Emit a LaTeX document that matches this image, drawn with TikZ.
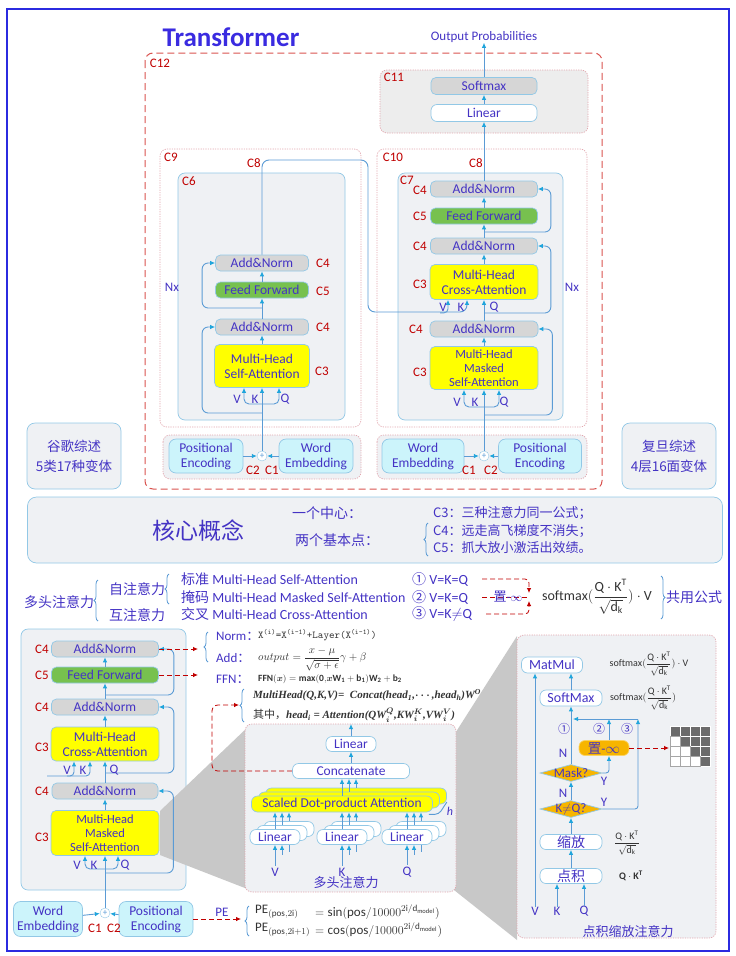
\documentclass[tikz,border=0pt]{standalone}
\usepackage{amsmath}
\usepackage{fontspec}
\setmainfont{Carlito}
\newfontfamily\cjk{Noto Sans CJK SC}
\newfontfamily\tnr{Liberation Serif}
\usetikzlibrary{arrows.meta, positioning, calc, shapes.geometric, decorations.pathreplacing}
\definecolor{tfink}{HTML}{4433C4}
\definecolor{tftitle}{HTML}{3A2BE0}
\definecolor{tfred}{HTML}{C00000}
\definecolor{tfline}{HTML}{5B9BD5}
\definecolor{tfarrow}{HTML}{1FA5DC}
\definecolor{tfbd}{HTML}{92C8E6}
\definecolor{tfpane}{HTML}{EFF1F4}
\definecolor{tfdash}{HTML}{D9534F}
\definecolor{tfdot}{HTML}{E2A6AE}
\definecolor{tfcyan}{HTML}{CCF4FB}
\definecolor{tfgray}{HTML}{D6D6D6}
\definecolor{tfgreen}{HTML}{77C14F}
\definecolor{tfyellow}{HTML}{FFFF00}
\definecolor{tfgold}{HTML}{F7B500}
\definecolor{tfframe}{HTML}{2B2BE0}
\definecolor{tfwedge}{HTML}{C8C8C8}
\definecolor{tfmask}{HTML}{6B6B6B}
\definecolor{tfformula}{HTML}{333333}
\tikzset{
  lyr/.style={draw=tfbd, rounded corners=5pt, align=center, inner sep=0pt, text=tfink,
    font=\fontsize{13.5}{15}\selectfont, line width=0.7pt},
  anbox/.style={lyr, fill=tfgray, minimum width=93pt, minimum height=16pt},
  ffbox/.style={lyr, fill=tfgreen, minimum width=93pt, minimum height=16pt},
  attbox/.style={lyr, fill=tfyellow, minimum width=95pt, minimum height=43pt},
  embbox/.style={lyr, fill=tfcyan, minimum width=74pt, minimum height=34pt, rounded corners=7pt},
  wbox/.style={lyr, fill=white, minimum height=15pt, rounded corners=6pt},
  sdbox/.style={lyr, fill=tfyellow, minimum width=181pt, minimum height=16pt, rounded corners=6pt},
  negbox/.style={lyr, fill=tfgold, draw=tfgold!60!white, minimum width=50pt, minimum height=15pt, rounded corners=6pt},
  decbox/.style={diamond, fill=tfgold, draw=tfbd, line width=0.7pt, inner sep=0pt,
    minimum width=62pt, minimum height=17pt},
  declbl/.style={text=tfink, font=\fontsize{13}{14}\selectfont, inner sep=0pt},
  sidebox/.style={lyr, fill=tfpane, minimum width=94pt, minimum height=66pt, rounded corners=8pt,
    font=\cjk\fontsize{13.5}{20}\selectfont},
  addop/.style={circle, draw=tfbd, fill=white, inner sep=0pt, minimum size=10pt, text=tfline,
    font=\fontsize{9}{9}\selectfont},
  clbl/.style={text=tfred, font=\fontsize{13}{14}\selectfont, inner sep=0pt},
  tlbl/.style={text=tfink, font=\fontsize{13}{14}\selectfont, inner sep=0pt},
  cjkt/.style={text=tfink, font=\cjk\fontsize{14}{16}\selectfont, inner sep=0pt},
  fml/.style={text=tfformula, inner sep=0pt},
  pane/.style={draw=tfbd, fill=tfpane, rounded corners=7pt, line width=0.7pt},
  dotpane/.style={draw=tfdot, dash pattern=on 1.2pt off 1.2pt, rounded corners=7pt, line width=0.7pt},
  redbox/.style={draw=tfdash, dash pattern=on 7pt off 4pt, rounded corners=8pt, line width=1pt},
  flow/.style={-{Latex[length=5pt, width=4.5pt, color=tfarrow]}, draw=tfline, line width=0.9pt},
  link/.style={draw=tfline, line width=0.9pt},
  redflow/.style={-{Latex[length=5pt, width=4.5pt]}, draw=tfred, dash pattern=on 5pt off 3pt, line width=0.8pt},
  reddash/.style={draw=tfred, dash pattern=on 5pt off 3pt, line width=0.8pt},
  brc/.style={decorate, decoration={brace, amplitude=4pt}, draw=tfline, line width=0.8pt}
}

\begin{document}
\begin{tikzpicture}[x=1pt, y=-1pt]
\useasboundingbox (0,0) rectangle (736,956);
\draw[tfframe, line width=1.4pt] (7,9) rectangle (729,951);

% overview frames
\node[text=tftitle, font=\fontsize{27}{30}\selectfont\bfseries] (title) at (231,37) {Transformer};
\node[tlbl] (outprob) at (484,37) {Output Probabilities};
\draw[redbox] (145,53) rectangle (602,489);
\draw[dotpane, fill=tfgray!45] (380,70) rectangle (588,133);
\draw[dotpane, fill=white] (160,149) rectangle (361,427);
\draw[dotpane, fill=white] (377,149) rectangle (587,427);
\draw[pane] (178,173) rectangle (345,420);
\draw[pane] (398,173) rectangle (563,420);
\draw[dotpane, fill=tfpane] (163,435) rectangle (361,479);
\draw[dotpane, fill=tfpane] (377,435) rectangle (587,479);
\node[clbl] (c12) at (160,63) {C12};
\node[clbl] (c11) at (394,77) {C11};
\node[clbl] (c9) at (171,157) {C9};
\node[clbl] (c10) at (393,157) {C10};
\node[clbl] (c6) at (189,181) {C6};
\node[clbl] (c7) at (407,180) {C7};
\node[clbl] (c8e) at (254,163) {C8};
\node[clbl] (c8d) at (476,163) {C8};

% encoder
\node[anbox] (eAN2) at (262,263) {Add\&Norm};
\node[ffbox] (eFF) at (262,290) {Feed Forward};
\node[anbox] (eAN1) at (262,327) {Add\&Norm};
\node[attbox] (eMHA) at (262,366) {Multi-Head\\Self-Attention};
\node[embbox] (ePE) at (206,456) {Positional\\Encoding};
\node[embbox] (eWE) at (316,456) {Word\\Embedding};
\node[addop] (eAdd) at (262,456) {+};
\coordinate (eBr) at (262,404);
\coordinate (eRs1) at (262,413);
\coordinate (eRs2) at (262,308);
\coordinate (c8up) at (368,160);
\coordinate (c8dn) at (368,312);
\draw[flow] (ePE) -- (eAdd);
\draw[flow] (eWE) -- (eAdd);
\draw[flow] (eAdd) -- (eMHA);
\draw[flow, rounded corners=5pt] (eBr) -| ($(eMHA.south)+(-18,0)$);
\draw[flow, rounded corners=5pt] (eBr) -| ($(eMHA.south)+(17,0)$);
\draw[flow, rounded corners=6pt] (eRs1) -| ($(eAN1.west)+(-13,0)$) -- (eAN1.west);
\draw[flow] (eMHA) -- (eAN1);
\draw[flow] (eAN1) -- (eFF);
\draw[flow, rounded corners=6pt] (eRs2) -| ($(eAN2.west)+(-13,0)$) -- (eAN2.west);
\draw[flow] (eFF) -- (eAN2);
\node[tlbl] (eV) at (237,399) {V};
\node[tlbl] (eK) at (255,399) {K};
\node[tlbl] (eQ) at (285,399) {Q};
\node[tlbl] (eNx) at (172,287) {Nx};
\node[clbl] (e4a) at (323,263) {C4};
\node[clbl] (e5) at (323,291) {C5};
\node[clbl] (e4b) at (323,327) {C4};
\node[clbl] (e3) at (322,371) {C3};
\node[clbl] (e2) at (253,470) {C2};
\node[clbl] (e1) at (272,470) {C1};

% decoder
\node[anbox, minimum width=107pt] (dAN3) at (484,189) {Add\&Norm};
\node[ffbox, minimum width=107pt] (dFF) at (484,216) {Feed Forward};
\node[anbox, minimum width=107pt] (dAN2) at (484,246) {Add\&Norm};
\node[attbox, minimum width=108pt, minimum height=35pt] (dCA) at (484,282) {Multi-Head\\Cross-Attention};
\node[anbox, minimum width=108pt] (dAN1) at (484,329) {Add\&Norm};
\node[attbox, minimum width=108pt, font=\fontsize{12.5}{14}\selectfont] (dMA) at (484,368) {Multi-Head\\Masked\\Self-Attention};
\node[embbox, minimum width=82pt] (dWE) at (423,456) {Word\\Embedding};
\node[embbox, minimum width=83pt] (dPE) at (540,456) {Positional\\Encoding};
\node[addop] (dAdd) at (484,456) {+};
\node[wbox, minimum width=106pt, minimum height=17pt] (dLin) at (484,113) {Linear};
\node[anbox, minimum width=106pt, minimum height=17pt] (dSm) at (484,86) {Softmax};
\coordinate (dBr) at (484,407);
\coordinate (dRs1) at (484,415);
\coordinate (dRs2) at (484,313);
\coordinate (dRs3) at (484,232);
\draw[flow] (dWE) -- (dAdd);
\draw[flow] (dPE) -- (dAdd);
\draw[flow] (dAdd) -- (dMA);
\draw[flow, rounded corners=5pt] (dBr) -| ($(dMA.south)+(-20,0)$);
\draw[flow, rounded corners=5pt] (dBr) -| ($(dMA.south)+(15,0)$);
\draw[flow, rounded corners=6pt] (dRs1) -| ($(dAN1.east)+(14,0)$) -- (dAN1.east);
\draw[flow] (dMA) -- (dAN1);
\draw[flow] (dAN1) -- (dCA);
\draw[flow, rounded corners=6pt] (dRs2) -| ($(dAN2.east)+(13,0)$) -- (dAN2.east);
\draw[flow] (dCA) -- (dAN2);
\draw[flow] (dAN2) -- (dFF);
\draw[flow, rounded corners=6pt] (dRs3) -| ($(dAN3.east)+(13,0)$) -- (dAN3.east);
\draw[flow] (dFF) -- (dAN3);
\draw[flow] (dAN3) -- (dLin);
\draw[flow] (dLin) -- (dSm);
\draw[flow] (dSm) -- (outprob);
\draw[flow, rounded corners=7pt] (eAN2.north) |- (c8up) -- (c8dn) -| ($(dCA.south)+(-17,0)$);
\draw[flow, rounded corners=4pt] ($(dCA.south)+(-44,13)$) -| ($(dCA.south)+(-36,0)$);
\node[tlbl] (dV1) at (443,307) {V};
\node[tlbl] (dK1) at (461,307) {K};
\node[tlbl] (dQ1) at (494,307) {Q};
\node[tlbl] (dV2) at (457,402) {V};
\node[tlbl] (dK2) at (475,402) {K};
\node[tlbl] (dQ2) at (504,402) {Q};
\node[tlbl] (dNx) at (572,287) {Nx};
\node[clbl] (d4a) at (420,190) {C4};
\node[clbl] (d5) at (420,216) {C5};
\node[clbl] (d4b) at (420,246) {C4};
\node[clbl] (d3a) at (420,284) {C3};
\node[clbl] (d4c) at (416,329) {C4};
\node[clbl] (d3b) at (420,372) {C3};
\node[clbl] (d1) at (469,470) {C1};
\node[clbl] (d2) at (491,470) {C2};

% survey boxes
\node[sidebox] (gsv) at (74,456) {谷歌综述\\5类17种变体};
\node[sidebox] (fsv) at (669,456) {复旦综述\\4层16面变体};

% core concept band
\node[lyr, fill=tfpane, minimum width=695pt, minimum height=66pt, rounded corners=9pt] (core) at (375,530) {};
\node[cjkt, font=\cjk\fontsize{23}{26}\selectfont] (coreT) at (198,531) {核心概念};
\node[cjkt] (oneC) at (327,513) {一个中心：};
\node[cjkt] (twoB) at (337,540) {两个基本点：};
\node[cjkt, anchor=west, font=\cjk\fontsize{13}{15}\selectfont] (p3) at (433,513) {C3：三种注意力同一公式；};
\node[cjkt, anchor=west, font=\cjk\fontsize{13}{15}\selectfont] (p4) at (433,531) {C4：远走高飞梯度不消失；};
\node[cjkt, anchor=west, font=\cjk\fontsize{13}{15}\selectfont] (p5) at (433,548) {C5：抓大放小激活出效绩。};
\draw[brc] (428,556) -- (428,523);

% attention kinds
\node[cjkt] (mhA) at (59,602) {多头注意力};
\node[cjkt] (selfA) at (137,589) {自注意力};
\node[cjkt] (crossA) at (137,615) {互注意力};
\draw[brc] (98,621) -- (98,580);
\draw[brc] (169,604) -- (169,574);
\node[tlbl, anchor=west, font=\fontsize{14}{16}\selectfont] (t1) at (181,579) {{\cjk 标准} Multi-Head Self-Attention};
\node[tlbl, anchor=west, font=\fontsize{14}{16}\selectfont] (t2) at (181,597) {{\cjk 掩码} Multi-Head Masked Self-Attention};
\node[tlbl, anchor=west, font=\fontsize{14}{16}\selectfont] (t3) at (181,614) {{\cjk 交叉} Multi-Head Cross-Attention};
\node[tlbl, anchor=west, font=\fontsize{14}{16}\selectfont] (r1) at (412,579) {{\cjk ①} V=K=Q};
\node[tlbl, anchor=west, font=\fontsize{14}{16}\selectfont] (r2) at (412,597) {{\cjk ②} V=K=Q};
\node[tlbl, anchor=west, font=\fontsize{14}{16}\selectfont] (r3) at (412,614) {{\cjk ③} V=K$\neq$Q};
\coordinate (mgTop) at (529,593);
\coordinate (mgMid) at (527,597);
\coordinate (mgBot) at (529,601);
\draw[redflow, rounded corners=4pt] ($(r1.east)+(14,0)$) -| (mgTop);
\draw[redflow, rounded corners=4pt] ($(r3.east)+(14,0)$) -| (mgBot);
\draw[reddash] ($(r2.east)+(14,0)$) -- (mgMid);
\node[tlbl, font=\fontsize{13}{14}\selectfont] (negB) at (508,597) {{\cjk 置}-$\infty$};
\node[fml, font=\fontsize{14}{16}\selectfont] (smxF) at (597,597) {$\mathrm{softmax}(\dfrac{\mathrm{Q\cdot K^T}}{\sqrt{\mathrm{d_k}}})\cdot\mathrm{V}$};
\draw[brc] (661,576) -- (661,619);
\node[cjkt] (share) at (694,597) {共用公式};

% decoder in detail
\draw[pane] (21,629) rectangle (186,890);
\fill[tfwedge] (160,811) -- (250,725) -- (250,890) -- (160,855) -- cycle;
\fill[tfwedge] (454,735) -- (517,636) -- (517,940) -- (454,890) -- cycle;
\node[anbox, minimum width=107pt] (bAN3) at (105,649) {Add\&Norm};
\node[ffbox, minimum width=107pt] (bFF) at (105,675) {Feed Forward};
\node[anbox, minimum width=107pt] (bAN2) at (105,707) {Add\&Norm};
\node[attbox, minimum width=108pt, minimum height=34pt] (bCA) at (105,744) {Multi-Head\\Cross-Attention};
\node[anbox, minimum width=106pt] (bAN1) at (105,791) {Add\&Norm};
\node[attbox, minimum width=108pt, minimum height=45pt, font=\fontsize{12.5}{14}\selectfont] (bMA) at (105,833) {Multi-Head\\Masked\\Self-Attention};
\node[embbox, minimum width=69pt, minimum height=35pt] (bWE) at (48,919) {Word\\Embedding};
\node[embbox, minimum width=74pt, minimum height=35pt] (bPE) at (156,919) {Positional\\Encoding};
\node[addop] (bAdd) at (105,913) {+};
\coordinate (bBr) at (105,869);
\coordinate (bRs1) at (105,873);
\coordinate (bRs2) at (105,773);
\coordinate (bRs3) at (105,695);
\coordinate (bKV) at (47,776);
\draw[flow] (bWE) -- (bAdd);
\draw[flow] (bPE) -- (bAdd);
\draw[flow] (bAdd) -- (bMA);
\draw[flow, rounded corners=5pt] (bBr) -| ($(bMA.south)+(-20,0)$);
\draw[flow, rounded corners=5pt] (bBr) -| ($(bMA.south)+(13,0)$);
\draw[flow, rounded corners=6pt] (bRs1) -| ($(bAN1.east)+(15,0)$) -- (bAN1.east);
\draw[flow] (bMA) -- (bAN1);
\draw[flow] (bAN1) -- (bCA);
\draw[flow, rounded corners=6pt] (bRs2) -| ($(bAN2.east)+(15,0)$) -- (bAN2.east);
\draw[flow] (bCA) -- (bAN2);
\draw[flow] (bAN2) -- (bFF);
\draw[flow, rounded corners=6pt] (bRs3) -| ($(bAN3.east)+(15,0)$) -- (bAN3.east);
\draw[flow] (bFF) -- (bAN3);
\draw[flow, rounded corners=4pt] (bKV) -| ($(bCA.south)+(-15,0)$);
\draw[flow, rounded corners=4pt] ($(bKV)+(20,0)$) -| ($(bCA.south)+(-31,0)$);
\node[tlbl] (bV1) at (67,770) {V};
\node[tlbl] (bK1) at (83,770) {K};
\node[tlbl] (bQ1) at (114,770) {Q};
\node[tlbl] (bV2) at (77,865) {V};
\node[tlbl] (bK2) at (94,865) {K};
\node[tlbl] (bQ2) at (125,865) {Q};
\node[clbl] (b4a) at (42,649) {C4};
\node[clbl] (b5) at (42,675) {C5};
\node[clbl] (b4b) at (42,707) {C4};
\node[clbl] (b3a) at (42,747) {C3};
\node[clbl] (b4c) at (42,791) {C4};
\node[clbl] (b3b) at (42,837) {C3};
\node[clbl] (b1) at (95,928) {C1};
\node[clbl] (b2) at (114,928) {C2};

% formulas
\coordinate (fNorm) at (198,649);
\coordinate (fFFN) at (198,675);
\coordinate (fPE) at (241,919);
\coordinate (fMH) at (239,705);
\draw[redflow] (bAN3.east) -- (fNorm);
\draw[redflow] (bFF.east) -- (fFFN);
\draw[redflow] (bPE.east) -- node[tlbl, above=2pt, pos=0.6] (peL) {PE} (fPE);
\draw[brc] (208,662) -- (208,632);
\node[tlbl, anchor=west] (normL) at (216,636) {Norm{\cjk ：}};
\node[tlbl, anchor=west] (addL) at (216,658) {Add{\cjk ：}};
\node[tlbl, anchor=west] (ffnL) at (216,679) {FFN{\cjk ：}};
\node[fml, anchor=west, font=\ttfamily\fontsize{10.5}{12}\selectfont] (fNormT) at (258,635) {X\textsuperscript{(i)}=X\textsuperscript{(i-1)}+Layer(X\textsuperscript{(i-1)})};
\node[fml, anchor=west, font=\fontsize{10.5}{12}\selectfont] (fAddT) at (258,659) {$output=\dfrac{x-\mu}{\sqrt{\sigma+\epsilon}}\gamma+\beta$};
\node[fml, anchor=west, font=\fontsize{9.5}{11}\selectfont] (fFFNT) at (258,679) {$\mathbf{FFN(}\boldsymbol{x}\mathbf{)=max(0,}\boldsymbol{x}\mathbf{W_1+b_1)W_2+b_2}$};
\draw[brc] (244,722) -- (244,689);
\node[fml, anchor=west, font=\tnr\bfseries\itshape\fontsize{11}{12}\selectfont] (fMHT) at (253,695) {MultiHead(Q,K,V)= \ Concat(head\textsubscript{1},$\boldsymbol{\cdots}$,head\textsubscript{h})W\textsuperscript{O}};
\node[fml, anchor=west, font=\tnr\bfseries\itshape\fontsize{11}{12}\selectfont] (fHdT) at (253,715) {{\cjk\mdseries\upshape 其中，}head\textsubscript{i} = Attention(QW$^{\boldsymbol{Q}}_{\boldsymbol{i}}$,KW$^{\boldsymbol{K}}_{\boldsymbol{i}}$,VW$^{\boldsymbol{V}}_{\boldsymbol{i}}$)};
\draw[brc] (249,936) -- (249,906);
\node[fml, anchor=west, font=\fontsize{13}{14}\selectfont] (pe1L) at (255,912) {$\mathrm{PE}_{(\mathrm{pos},2\mathrm{i})}$};
\node[fml, anchor=west, font=\fontsize{13}{14}\selectfont] (pe2L) at (255,930) {$\mathrm{PE}_{(\mathrm{pos},2\mathrm{i}+1)}$};
\node[fml, anchor=west, font=\fontsize{13}{14}\selectfont] (pe1R) at (315,912) {$=\mathrm{sin}(\mathrm{pos}/10000^{2\mathrm{i}/\mathrm{d_{model}}})$};
\node[fml, anchor=west, font=\fontsize{13}{14}\selectfont] (pe2R) at (315,930) {$=\mathrm{cos}(\mathrm{pos}/10000^{2\mathrm{i}/\mathrm{d_{model}}})$};

% multi-head attention
\draw[dotpane, fill=tfpane] (245,724) rectangle (456,892);
\node[wbox, minimum width=50pt] (mhLin) at (351,744) {Linear};
\node[wbox, minimum width=117pt] (mhCat) at (351,771) {Concatenate};
\coordinate (mhTop) at (351,724);
\draw[flow] (mhLin) -- (mhTop);
\draw[flow] (mhCat) -- (mhLin);
\draw[redflow, rounded corners=6pt] (mhCat.west) -| (212,705) -- (fMH);
\node[sdbox] (sdp2) at ($(342,804)+(14,-8)$) {};
\node[sdbox] (sdp1) at ($(342,804)+(7,-4)$) {};
\node[sdbox] (sdp) at (342,804) {Scaled Dot-product Attention};
\foreach \s in {sdp, sdp1, sdp2}
  \draw[flow] (\s.north) -- (\s.north |- mhCat.south);
\draw[link, rounded corners=4pt] ($(sdp.south east)+(-4,2)$) -- ($(sdp.south east)+(6,2)$) -- ($(sdp2.east)+(0,6)$);
\node[tlbl, font=\itshape\fontsize{12}{13}\selectfont] (hcnt) at (450,811) {h};
\foreach \nm/\cx/\lt in {lv/275/V, lk/342/K, lq/407/Q}{
  \node[wbox, minimum width=50pt] (\nm2) at ($(\cx,837)+(14,-8)$) {};
  \node[wbox, minimum width=50pt] (\nm1) at ($(\cx,837)+(7,-4)$) {};
  \node[wbox, minimum width=50pt] (\nm) at (\cx,837) {Linear};
  \node[tlbl] (\nm t) at (\cx,872) {\lt};
  \draw[flow] ($(\nm t.north)+(0,-2)$) -- (\nm.south);
  \draw[flow] ($(\nm1.south)+(0,14)$) -- (\nm1.south |- \nm.south);
  \draw[link] ($(\nm.south)+(14,7)$) -- ($(\nm.south)+(14,0)$);
  \draw[flow] (\nm.north) -- (\nm.north |- sdp.south);
  \draw[flow] (\nm1.north) -- (\nm1.north |- sdp.south);
  \draw[flow] (\nm2.north) -- (\nm2.north |- sdp.south);
}
\node[cjkt, font=\cjk\fontsize{13}{14}\selectfont] (mhT) at (346,883) {多头注意力};

% scaled dot-product attention
\draw[dotpane, fill=tfpane] (517,635) rectangle (716,938);
\node[wbox, minimum width=61pt, minimum height=16pt, font=\fontsize{14}{15}\selectfont] (mm) at (552,665) {MatMul};
\node[wbox, minimum width=62pt, minimum height=16pt, font=\fontsize{14}{15}\selectfont] (smx) at (571,698) {SoftMax};
\node[negbox] (neg) at (604,748) {{\cjk 置}-$\infty$};
\node[decbox] (mask) at (571,773) {};
\node[declbl] (maskT) at (mask.center) {Mask?};
\node[decbox] (kq) at (571,809) {};
\node[declbl] (kqT) at (kq.center) {K$\neq$Q?};
\node[wbox, minimum width=62pt, font=\cjk\fontsize{14}{15}\selectfont] (scl) at (571,842) {缩放};
\node[wbox, minimum width=62pt, font=\cjk\fontsize{14}{15}\selectfont] (dotp) at (571,876) {点积};
\node[tlbl] (sV) at (535,911) {V};
\node[tlbl] (sK) at (557,911) {K};
\node[tlbl] (sQ) at (584,911) {Q};
\coordinate (jl) at (573,719);
\coordinate (jr) at (638,719);
\coordinate (nTop) at ($(neg.north)+(5,0)$);
\draw[flow] (sV.north) -- (sV.north |- mm.south);
\draw[flow] (sK.north) -- (sK.north |- dotp.south);
\draw[flow] (sQ.north) -- (sQ.north |- dotp.south);
\draw[flow] (dotp) -- (scl);
\draw[flow] (scl) -- (kq);
\draw[flow] (kq) -- (mask);
\draw[flow] (mask) -- (smx);
\draw[flow] (smx.north) -- (smx.north |- mm.south);
\draw[flow, rounded corners=3pt] (mask.east) -| ($(neg.south)+(5,0)$);
\draw[flow] (nTop) -- (nTop |- jr);
\draw[flow, rounded corners=3pt] (kq.east) -| (jr);
\draw[flow] (jr) -- (jl);
\node[tlbl, font=\cjk\fontsize{12}{13}\selectfont] (n1) at (564,729) {①};
\node[tlbl, font=\cjk\fontsize{12}{13}\selectfont] (n2) at (599,729) {②};
\node[tlbl, font=\cjk\fontsize{12}{13}\selectfont] (n3) at (627,729) {③};
\node[tlbl] (mN) at (563,753) {N};
\node[tlbl] (kN) at (563,793) {N};
\node[tlbl] (mY) at (604,781) {Y};
\node[tlbl] (kY) at (604,802) {Y};
\foreach \r in {0,...,3}
  \foreach \c in {0,...,3}
    \draw[draw=white, fill=tfmask, line width=0.6pt] (670+\c*10,726+\r*10) rectangle ++(10,10);
\foreach \r/\c in {1/0, 2/0, 2/1, 3/0, 3/1, 3/2}
  \draw[draw=tfmask!60, fill=white, line width=0.6pt] (670+\c*10,726+\r*10) rectangle ++(10,10);
\coordinate (gridW) at (669,748);
\draw[redflow] (neg.east) -- (gridW);
\node[fml, font=\fontsize{10}{12}\selectfont] (sf1) at (649,664) {$\mathrm{softmax}(\dfrac{\mathrm{Q\cdot K^T}}{\sqrt{\mathrm{d_k}}})\cdot\mathrm{V}$};
\node[fml, font=\fontsize{10}{12}\selectfont] (sf2) at (643,698) {$\mathrm{softmax}(\dfrac{\mathrm{Q\cdot K^T}}{\sqrt{\mathrm{d_k}}})$};
\node[fml, font=\fontsize{10}{12}\selectfont] (sf3) at (627,843) {$\dfrac{\mathrm{Q\cdot K^T}}{\sqrt{\mathrm{d_k}}}$};
\node[fml, font=\fontsize{10}{12}\selectfont] (sf4) at (631,876) {$\mathbf{Q\cdot K^T}$};
\node[cjkt, font=\cjk\fontsize{13}{14}\selectfont] (sdT) at (628,932) {点积缩放注意力};
\end{tikzpicture}
\end{document}
